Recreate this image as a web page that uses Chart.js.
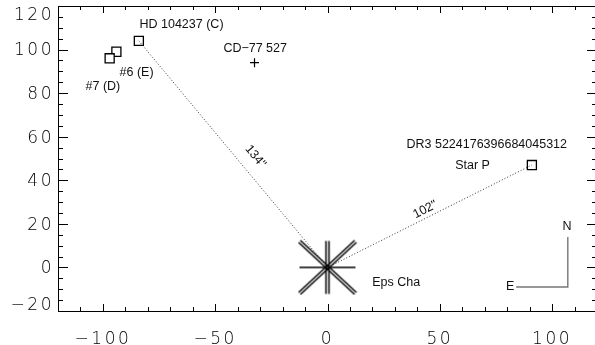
<!DOCTYPE html>
<html>
<head>
<meta charset="utf-8">
<script src="https://cdn.jsdelivr.net/npm/chart.js@4"></script>
<style>
    html, body { margin: 0; padding: 0; background: #fff; overflow: hidden; }
    #wrap { width: 595px; height: 345px; }
</style>
</head>
<body>
<div id="wrap"><canvas id="chart"></canvas></div>
<script>
// Offsets from Eps Cha in arcsec (east to the left, north up)
var primary = [{x: 0, y: 0}];
var squareStars = [{x: -84, y: 104}, {x: -94, y: 99}, {x: -97, y: 96}, {x: 91, y: 47}];
var crossStars = [{x: -32.5, y: 94}];
var sepC = [{x: 0, y: 0}, {x: -84, y: 104}];
var sepP = [{x: 0, y: 0}, {x: 91, y: 47}];
var compass = [{x: 84, y: -9}, {x: 107, y: -9}, {x: 107, y: 14}];
var xTicks = [-100, -50, 0, 50, 100];
var yTicks = [-20, 0, 20, 40, 60, 80, 100, 120];

var labels = [
    {text: 'HD 104237 (C)', x: -65, y: 111.3},
    {text: 'CD\u221277 527', x: -32.2, y: 100.3},
    {text: '#6 (E)', x: -85, y: 89.3},
    {text: '#7 (D)', x: -100, y: 82.9},
    {text: 'DR3 5224176396684045312', x: 70.9, y: 56.3},
    {text: 'Star P', x: 64.6, y: 46.6},
    {text: 'Eps Cha', x: 30.6, y: -7},
    {text: 'N', x: 106.7, y: 18.7},
    {text: 'E', x: 81.3, y: -9},
    {text: '134"', x: -32.1, y: 50.9, along: sepC},
    {text: '102"', x: 43.5, y: 26.5, along: sepP}
];

// plot frame in page pixels (right edge falls just outside the window)
var frame = {left: 58, right: 597, top: 6, bottom: 311};

// asterisk-like symbol for the primary
function makeStarSymbol() {
    var c = document.createElement('canvas');
    c.width = 60;
    c.height = 56;
    var g = c.getContext('2d');
    g.translate(30, 28);
    g.strokeStyle = '#000';
    g.lineWidth = 1.5;
    function seg(x0, y0, x1, y1) {
        g.beginPath();
        g.moveTo(x0, y0);
        g.lineTo(x1, y1);
        g.stroke();
    }
    seg(-28, 0, 28, 0);
    seg(-1.5, -26.5, -1.5, 26.5);
    seg(1.5, -26.5, 1.5, 26.5);
    var px = 0.9, py = 1.0;
    seg(-28 - px, -26 + py, 28 - px, 26 + py);
    seg(-28 + px, -26 - py, 28 + px, 26 - py);
    seg(-28 - px, 26 - py, 28 - px, -26 - py);
    seg(-28 + px, 26 + py, 28 + px, -26 + py);
    return c;
}

var fixedFrame = {
    id: 'fixedFrame',
    afterLayout: function(chart) {
        var a = chart.chartArea, sx = chart.scales.x, sy = chart.scales.y;
        a.left = frame.left; a.right = frame.right;
        a.top = frame.top; a.bottom = frame.bottom;
        a.width = a.right - a.left; a.height = a.bottom - a.top;
        sx.left = a.left; sx.right = a.right; sx.width = a.width;
        sx.top = a.bottom; sx.bottom = chart.height; sx.height = sx.bottom - sx.top;
        sy.top = a.top; sy.bottom = a.bottom; sy.height = a.height;
        sy.left = 0; sy.right = a.left; sy.width = a.left;
        sx.configure();
        sy.configure();
    }
};

var frameTicks = {
    id: 'frameTicks',
    beforeDraw: function(chart) {
        // nudge y labels onto the ticks and keep the end ones inside the frame
        var items = chart.scales.y.getLabelItems(chart.chartArea);
        items.forEach(function(it) {
            var t = it.options.translation;
            t[1] = Math.min(Math.max(t[1] + 1.5, frame.top + 10), frame.bottom - 5);
        });
        chart.ctx.letterSpacing = '2.5px';
    },
    beforeDatasetsDraw: function(chart) {
        chart.ctx.letterSpacing = '0px';
    },
    afterDatasetsDraw: function(chart) {
        var ctx = chart.ctx, a = chart.chartArea;
        var sx = chart.scales.x, sy = chart.scales.y;
        var v, p, len;
        ctx.save();
        ctx.strokeStyle = '#000';
        ctx.lineWidth = 1;
        ctx.beginPath();
        ctx.rect(Math.round(a.left) + 0.5, Math.round(a.top) + 0.5,
            Math.round(a.right - a.left), Math.round(a.bottom - a.top));
        for (v = -120; v <= 120; v += 10) {
            p = Math.round(sx.getPixelForValue(v)) + 0.5;
            len = v % 50 === 0 ? 7 : 4;
            ctx.moveTo(p, a.bottom);
            ctx.lineTo(p, a.bottom - len);
            ctx.moveTo(p, a.top);
            ctx.lineTo(p, a.top + len);
        }
        for (v = -20; v <= 120; v += 5) {
            p = Math.round(sy.getPixelForValue(v)) + 0.5;
            len = v % 20 === 0 ? 10 : 5;
            ctx.moveTo(a.left, p);
            ctx.lineTo(a.left + len, p);
            ctx.moveTo(a.right, p);
            ctx.lineTo(a.right - len, p);
        }
        ctx.stroke();

        // text annotations
        ctx.fillStyle = '#111';
        ctx.font = '12.5px "Liberation Sans", Arial, sans-serif';
        ctx.textAlign = 'center';
        ctx.textBaseline = 'middle';
        labels.forEach(function(l) {
            var x = sx.getPixelForValue(l.x), y = sy.getPixelForValue(l.y);
            ctx.save();
            ctx.translate(x, y);
            if (l.along) {
                var p0 = l.along[0], p1 = l.along[1];
                var ang = Math.atan2(sy.getPixelForValue(p1.y) - sy.getPixelForValue(p0.y),
                    sx.getPixelForValue(p1.x) - sx.getPixelForValue(p0.x));
                if (ang > Math.PI / 2) ang -= Math.PI;
                if (ang < -Math.PI / 2) ang += Math.PI;
                ctx.rotate(ang);
            }
            ctx.fillText(l.text, 0, 0);
            ctx.restore();
        });
        ctx.restore();
    }
};

var tickFont = {family: '"DejaVu Sans", sans-serif', size: 17, weight: '200'};

function fmtTick(value) {
    return String(value).replace('-', '\u2212');
}

new Chart(document.getElementById('chart'), {
    type: 'scatter',
    data: {
        datasets: [
            {data: sepC, showLine: true, borderColor: '#333', borderWidth: 1, borderDash: [1, 2], pointRadius: 0},
            {data: sepP, showLine: true, borderColor: '#333', borderWidth: 1, borderDash: [1, 2], pointRadius: 0},
            {data: compass, showLine: true, borderColor: '#777', borderWidth: 1.4, pointRadius: 0},
            {data: squareStars, pointStyle: 'rect', pointRadius: 6.4, borderColor: '#000', borderWidth: 1.3, backgroundColor: '#fff'},
            {data: crossStars, pointStyle: 'cross', pointRadius: 4.5, borderColor: '#000', borderWidth: 1.2},
            {data: primary, pointStyle: makeStarSymbol(), pointRadius: 28}
        ]
    },
    options: {
        animation: false,
        responsive: true,
        maintainAspectRatio: false,
        plugins: {legend: {display: false}, tooltip: {enabled: false}},
        scales: {
            x: {
                type: 'linear',
                min: -120,
                max: 120,
                grid: {display: false, drawTicks: false},
                border: {display: false},
                afterBuildTicks: function(scale) {
                    scale.ticks = xTicks.map(function(v) { return {value: v}; });
                },
                ticks: {font: tickFont, color: '#000', padding: 18, maxRotation: 0, callback: fmtTick}
            },
            y: {
                type: 'linear',
                min: -20,
                max: 120,
                grid: {display: false, drawTicks: false},
                border: {display: false},
                afterBuildTicks: function(scale) {
                    scale.ticks = yTicks.map(function(v) { return {value: v}; });
                },
                ticks: {font: tickFont, color: '#000', padding: 4, callback: fmtTick}
            }
        }
    },
    plugins: [fixedFrame, frameTicks]
});
</script>
</body>
</html>
